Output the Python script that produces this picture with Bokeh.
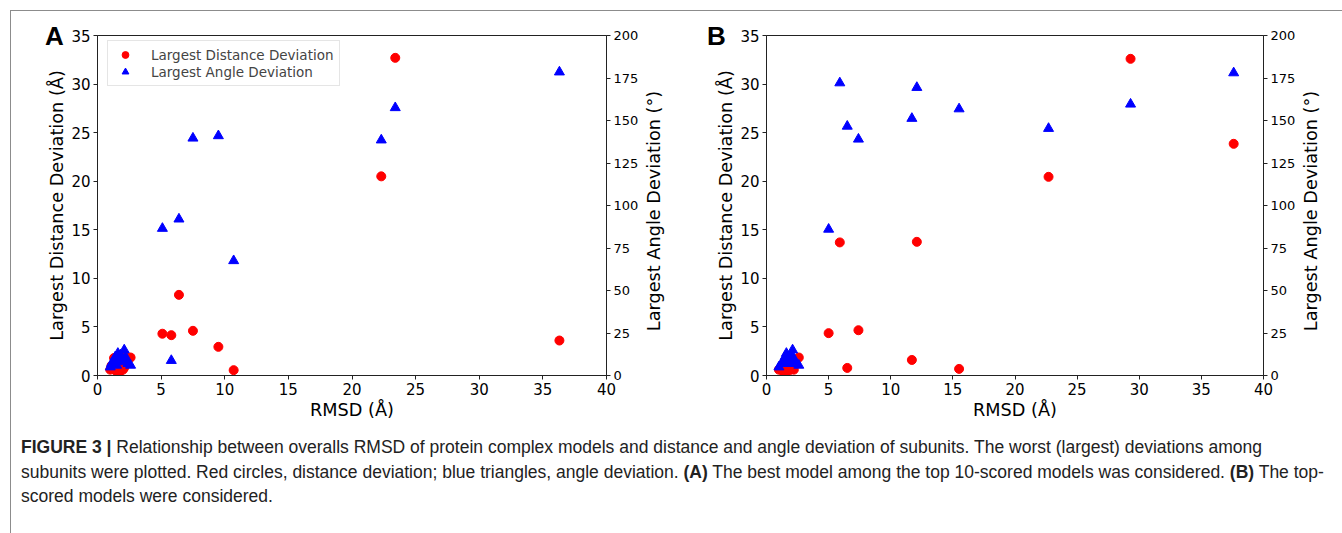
from bokeh.plotting import figure
from bokeh.models import Range1d, LinearAxis, FixedTicker, Legend, LegendItem, Div
from bokeh.layouts import row, column
from bokeh.embed import file_html
from bokeh.resources import INLINE

# ---- data ----
A_rmsd = [36.3, 23.4, 22.3, 10.7, 9.5, 7.5, 6.4, 5.8, 5.1,
          1.0, 1.1, 1.3, 1.4, 1.5, 1.6, 1.7, 1.8, 1.9, 2.0, 2.1, 2.2, 2.4, 2.6]
A_dist = [3.6, 32.7, 20.5, 0.55, 2.95, 4.6, 8.3, 4.15, 4.3,
          0.6, 1.0, 1.8, 0.7, 0.4, 1.2, 0.3, 0.5, 1.5, 0.6, 0.8, 1.9, 1.7, 1.85]
A_ang = [178.5, 157.5, 138.5, 67.5, 141.0, 139.6, 92.0, 8.8, 86.5,
         5, 7, 9, 11, 6, 13, 8, 12, 10, 9, 15, 11, 7, 6]

B_rmsd = [37.6, 29.3, 22.7, 15.5, 12.1, 11.7, 7.4, 6.5, 5.9, 5.0,
          1.0, 1.2, 1.4, 1.5, 1.6, 1.7, 1.8, 1.9, 2.0, 2.1, 2.2, 2.3, 2.6]
B_dist = [23.85, 32.6, 20.45, 0.68, 13.76, 1.6, 4.66, 0.78, 13.7, 4.36,
          0.6, 0.9, 0.3, 1.1, 0.4, 1.0, 0.5, 0.7, 0.7, 1.2, 0.6, 1.5, 1.85]
B_ang = [178.0, 159.6, 145.3, 156.8, 169.4, 151.2, 139.0, 146.6, 172.1, 86.0,
         5, 7, 9, 11, 13, 8, 10, 7, 12, 15, 10, 8, 6]

x_ticks = [0, 5, 10, 15, 20, 25, 30, 35, 40]
dist_ticks = [0, 5, 10, 15, 20, 25, 30, 35]
ang_ticks = [0, 25, 50, 75, 100, 125, 150, 175, 200]

x_label = "RMSD (Å)"
left_label = "Largest Distance Deviation (Å)"
right_label = "Largest Angle Deviation (°)"
dist_name = "Largest Distance Deviation"
ang_name = "Largest Angle Deviation"
panel_letters = ["A", "B"]

FONT = "DejaVu Sans"
AXC = "#222222"
LABEL_SIZE = "17.7px"


def style_axis(ax, tick_size, standoff):
    ax.axis_line_color = AXC
    ax.major_tick_line_color = AXC
    ax.minor_tick_line_color = None
    ax.major_tick_out = 4
    ax.major_tick_in = 0
    ax.major_label_text_font = FONT
    ax.major_label_text_font_size = tick_size
    ax.major_label_text_color = "black"
    ax.major_label_standoff = 3
    ax.axis_label_text_font = FONT
    ax.axis_label_text_font_size = LABEL_SIZE
    ax.axis_label_text_font_style = "normal"
    ax.axis_label_text_color = "black"
    ax.axis_label_standoff = standoff


def make_panel(rmsd, dist, ang, width, mb_left, mb_right, legend):
    p = figure(width=width, height=416, output_backend="svg", toolbar_location=None,
               x_range=Range1d(0, 40), y_range=Range1d(0, 35),
               min_border_left=mb_left, min_border_right=mb_right,
               min_border_top=24, min_border_bottom=52)
    p.xgrid.visible = False
    p.ygrid.visible = False
    p.outline_line_color = AXC
    p.outline_line_alpha = 1.0
    p.background_fill_color = "white"
    p.border_fill_color = "white"

    p.extra_y_ranges = {"ang": Range1d(0, 200)}
    rax = LinearAxis(y_range_name="ang", ticker=FixedTicker(ticks=ang_ticks))
    p.add_layout(rax, "right")

    p.xaxis.ticker = FixedTicker(ticks=x_ticks)
    p.yaxis[0].ticker = FixedTicker(ticks=dist_ticks)
    p.xaxis.axis_label = x_label
    p.yaxis[0].axis_label = left_label
    style_axis(p.xaxis[0], "15px", 2)
    style_axis(p.yaxis[0], "15px", 1)
    style_axis(rax, "13px", 6)

    r1 = p.scatter(rmsd, dist, marker="circle", size=9, color="#ff0000")
    r2 = p.scatter(rmsd, ang, marker="triangle", size=10, color="#0000ff",
                   y_range_name="ang")

    if legend:
        leg = Legend(items=[LegendItem(label=dist_name, renderers=[r1]),
                            LegendItem(label=ang_name, renderers=[r2])],
                     location=(10, 289))
        leg.margin = 0
        leg.padding = 5
        leg.spacing = 0
        leg.label_height = 17
        leg.glyph_height = 17
        leg.glyph_width = 24
        leg.label_standoff = 14
        leg.label_text_font = FONT
        leg.label_text_font_size = "13.5px"
        leg.border_line_color = "#cccccc"
        leg.border_line_width = 1
        leg.background_fill_alpha = 0.9
        p.add_layout(leg, "center")
    return p


pA = make_panel(A_rmsd, A_dist, A_ang, 661, 86, 66, True)
pB = make_panel(B_rmsd, B_dist, B_ang, 669, 94, 78, False)

# overlay texts (panel letters and right-axis titles), positioned relative to the caption box
letter_style = ("position:absolute; top:-409px; font-family:'Liberation Sans', Arial, sans-serif;"
                " font-weight:bold; font-size:26px; line-height:26px; color:black; z-index:10;")
rlab_style = ("position:absolute; top:-221px; font-family:'DejaVu Sans', sans-serif;"
              f" font-size:{LABEL_SIZE}; line-height:20px; color:black; white-space:nowrap; z-index:10;"
              " transform:translate(-50%,-50%) rotate(-90deg);")
overlay_html = (
    f"<span style=\"{letter_style} left:29px;\">{panel_letters[0]}</span>"
    f"<span style=\"{letter_style} left:691px;\">{panel_letters[1]}</span>"
    f"<span style=\"{rlab_style} left:638px;\">{right_label}</span>"
    f"<span style=\"{rlab_style} left:1295px;\">{right_label}</span>"
)

caption_html = (
    "<b>FIGURE 3 |</b> Relationship between overalls RMSD of protein complex models and "
    "distance and angle deviation of subunits. The worst (largest) deviations among<br>"
    "subunits were plotted. Red circles, distance deviation; blue triangles, angle deviation. "
    "<b>(A)</b> The best model among the top 10-scored models was considered. <b>(B)</b> The top-<br>"
    "scored models were considered."
)
cap = Div(text=overlay_html + caption_html, width=1330, height=104,
          styles={"font-family": "'Liberation Sans', Arial, sans-serif",
                  "font-size": "17.5px", "line-height": "24.5px", "color": "#222",
                  "white-space": "nowrap", "padding-left": "5px", "padding-top": "3px",
                  "box-sizing": "border-box", "overflow": "visible",
                  "position": "relative", "z-index": "10"})

layout = column(row(pA, pB), cap, margin=(10, 0, 0, 10),
                styles={"border-top": "1px solid #8c8c8c", "border-left": "1px solid #8c8c8c"})

open("out.html", "w").write(file_html(layout, INLINE))
